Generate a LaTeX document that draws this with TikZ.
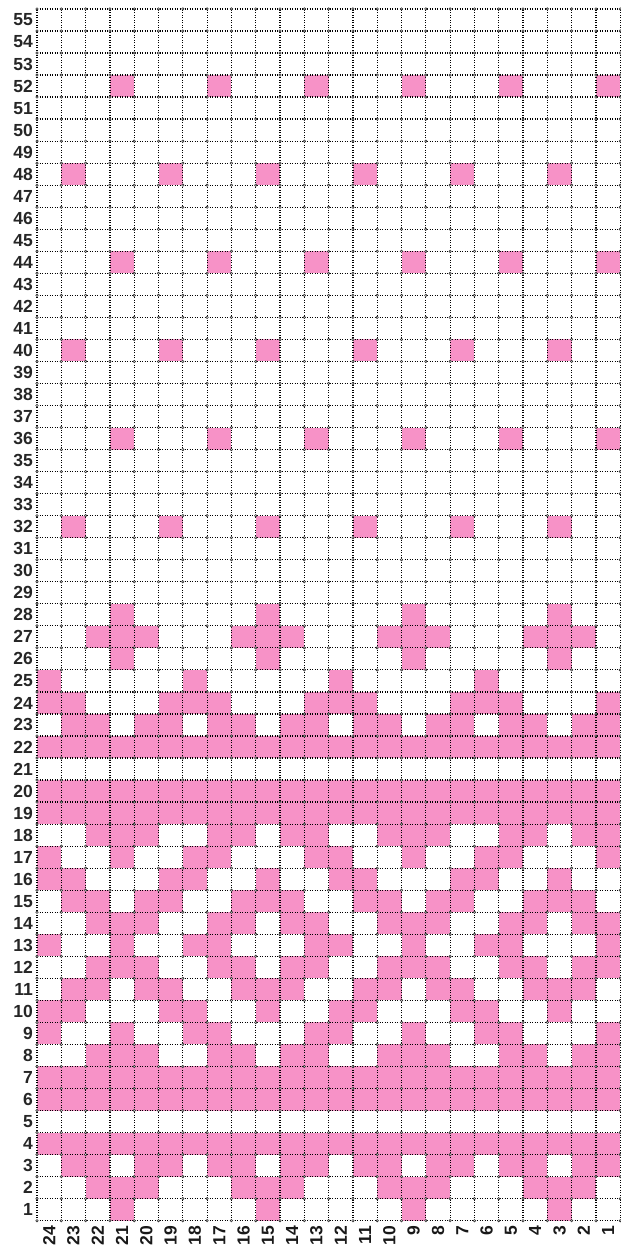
\documentclass[tikz,border=0pt]{standalone}
\usepackage{fontspec}
\setmainfont{Liberation Sans}
\definecolor{chartpink}{RGB}{247,146,199}

\begin{document}
\begin{tikzpicture}[x=1pt,y=1pt,
  cell/.style={fill=chartpink},
  gridline/.style={black,line width=1.2pt,dash pattern=on 1pt off 1.5pt},
  knot/.style={black!80,line width=0.6pt,fill=white},
  rowlabel/.style={anchor=east,inner sep=0pt,text=black!85,font=\bfseries\fontsize{17.5}{17.5}\selectfont},
  collabel/.style={anchor=east,inner sep=0pt,rotate=90,text=black!90,font=\bfseries\fontsize{17.5}{17.5}\selectfont}]
\def\cw{24.3}
\def\ch{22.03}

% page frame
\useasboundingbox (-37,-37.3) rectangle (583.2,1220.6);

% pink stitches (row / stitch numbers)
\foreach \r/\cs in {
  1/{21,15,9,3},
  2/{22,21,20,16,15,14,10,9,8,4,3,2},
  3/{23,22,20,19,17,16,14,13,11,10,8,7,5,4,2,1},
  4/{1,...,24},
  6/{1,...,24},
  7/{1,...,24},
  8/{22,21,20,17,16,14,13,10,9,8,5,4,2,1},
  9/{24,21,18,17,13,12,9,6,5,1},
  10/{24,23,19,18,15,12,11,7,6,3},
  11/{23,22,20,19,16,15,14,11,10,8,7,4,3,2},
  12/{22,21,20,17,16,14,13,10,9,8,5,4,2,1},
  13/{24,21,18,17,13,12,9,6,5,1},
  14/{22,21,20,17,16,14,13,10,9,8,5,4,2,1},
  15/{23,22,20,19,16,15,14,11,10,8,7,4,3,2},
  16/{24,23,19,18,15,12,11,7,6,3},
  17/{24,21,18,17,13,12,9,6,5,1},
  18/{22,21,20,17,16,14,13,10,9,8,5,4,2,1},
  19/{1,...,24},
  20/{1,...,24},
  22/{1,...,24},
  23/{23,22,20,19,17,16,14,13,11,10,8,7,5,4,2,1},
  24/{24,23,19,18,17,13,12,11,7,6,5,1},
  25/{24,18,12,6},
  26/{21,15,9,3},
  27/{22,21,20,16,15,14,10,9,8,4,3,2},
  28/{21,15,9,3},
  32/{23,19,15,11,7,3},
  36/{21,17,13,9,5,1},
  40/{23,19,15,11,7,3},
  44/{21,17,13,9,5,1},
  48/{23,19,15,11,7,3},
  52/{21,17,13,9,5,1}} {
  \foreach \c in \cs
    \fill[cell] ({(24-\c)*\cw},{(\r-1)*\ch}) rectangle ++(\cw,\ch);
}

% dotted grid
\foreach \i in {0,...,24}
  \draw[gridline] ({\i*\cw},0) -- ({\i*\cw},{55*\ch});
\foreach \j in {0,...,55}
  \draw[gridline] (0,{\j*\ch}) -- ({24*\cw},{\j*\ch});
\foreach \i in {0,...,24}
  \foreach \j in {0,...,55}
    \draw[knot] ({\i*\cw},{\j*\ch}) circle (1.2pt);

% row numbers
\foreach \r in {1,...,55}
  \node[rowlabel] (row\r) at (-4,{(\r-0.5)*\ch}) {\r};

% stitch numbers
\foreach \c in {1,...,24}
  \node[collabel] (st\c) at ({(24.5-\c)*\cw},-5) {\c};

\end{tikzpicture}
\end{document}
